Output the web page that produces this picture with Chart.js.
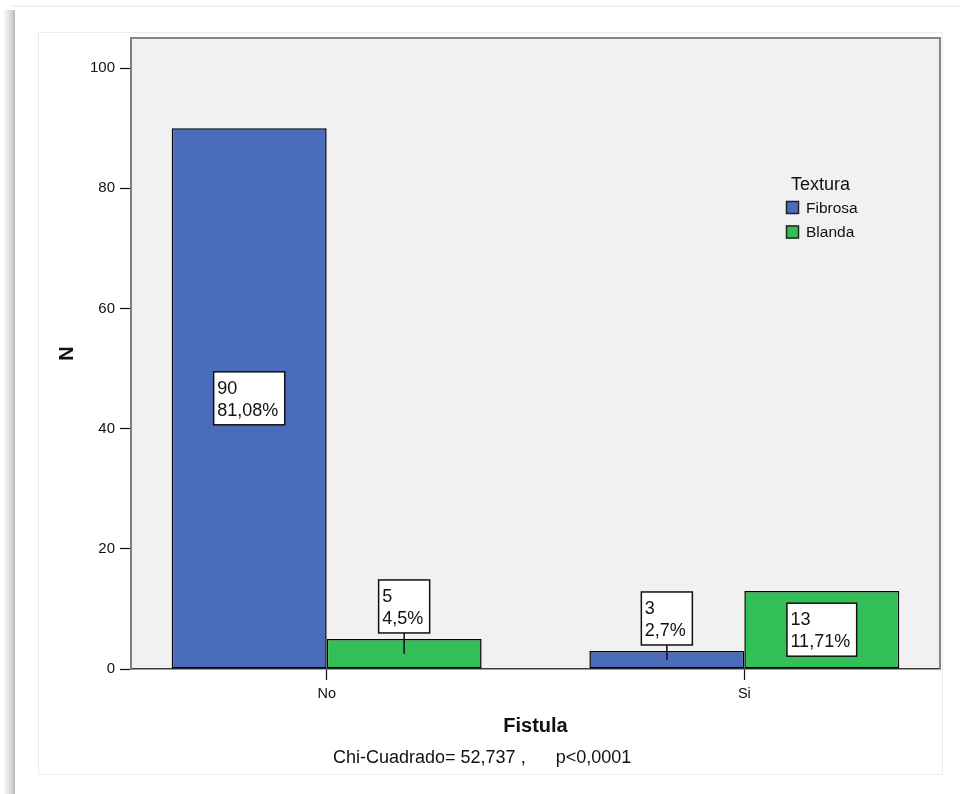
<!DOCTYPE html>
<html>
<head>
<meta charset="utf-8">
<script src="https://cdn.jsdelivr.net/npm/chart.js@4/dist/chart.umd.min.js"></script>
<style>
  html, body { margin: 0; padding: 0; background: #fff; }
  canvas { display: block; }
</style>
</head>
<body>
<canvas id="chart" width="960" height="794"></canvas>
<script>
// Counts of fistula by pancreatic texture
const categories = ['No', 'Si'];
const seriesNames = ['Fibrosa', 'Blanda'];
const fibrosa = [90, 3];
const blanda = [5, 13];
const fibrosaPct = ['81,08%', '2,7%'];
const blandaPct = ['4,5%', '11,71%'];
const yTicks = [0, 20, 40, 60, 80, 100];
const legendTitle = 'Textura';
const xTitle = 'Fistula';
const yTitle = 'N';
const footnote = 'Chi-Cuadrado= 52,737 ,      p<0,0001';

const FONT = "'Liberation Sans', Arial, Helvetica, sans-serif";
const COLORS = ['#4a6cba', '#31bf56'];

// Page frame, plot panel background and border
const framePlugin = {
  id: 'frame',
  beforeDraw(chart) {
    const ctx = chart.ctx;
    const a = chart.chartArea;
    ctx.save();
    // left drop shadow of the output frame
    const g = ctx.createLinearGradient(3, 0, 15, 0);
    g.addColorStop(0, 'rgba(0,0,0,0)');
    g.addColorStop(0.7, 'rgba(0,0,0,0.16)');
    g.addColorStop(1, 'rgba(0,0,0,0.28)');
    ctx.fillStyle = g;
    ctx.fillRect(3, 10, 12, 784);
    // faint top edge
    ctx.fillStyle = 'rgba(0,0,0,0.05)';
    ctx.fillRect(12, 5, 948, 2);
    // inner panel outline
    ctx.strokeStyle = '#ececec';
    ctx.lineWidth = 1;
    ctx.strokeRect(38.5, 32.5, 904, 742);
    // plot background
    ctx.fillStyle = '#f1f1f1';
    ctx.fillRect(a.left, a.top, a.right - a.left, a.bottom - a.top);
    ctx.restore();
  },
  afterDraw(chart) {
    const ctx = chart.ctx;
    const a = chart.chartArea;
    ctx.save();
    ctx.strokeStyle = '#858585';
    ctx.lineWidth = 2;
    ctx.beginPath();
    ctx.moveTo(a.left, a.top);
    ctx.lineTo(a.right, a.top);
    ctx.lineTo(a.right, a.bottom);
    ctx.stroke();
    ctx.restore();
  }
};

// Count / percentage boxes on each bar
const valueBoxPlugin = {
  id: 'valueBoxes',
  afterDatasetsDraw(chart) {
    const ctx = chart.ctx;
    ctx.save();
    ctx.font = '18px ' + FONT;
    chart.data.datasets.forEach((ds, di) => {
      const meta = chart.getDatasetMeta(di);
      meta.data.forEach((el, i) => {
        const p = el.getProps(['x', 'y', 'base'], true);
        const lines = [String(ds.data[i].y), ds.pct[i]];
        const w = Math.max(...lines.map(t => ctx.measureText(t).width)) + 10;
        const h = 53;
        const barH = p.base - p.y;
        const mid = (p.y + p.base) / 2;
        let top;
        let leader = false;
        if (barH > h + 4) {
          top = mid - h / 2;
        } else {
          top = p.y - 6 - h;
          leader = true;
        }
        const left = p.x - w / 2;
        if (leader) {
          ctx.strokeStyle = '#111';
          ctx.lineWidth = 1.5;
          ctx.beginPath();
          ctx.moveTo(p.x, top + h);
          ctx.lineTo(p.x, mid);
          ctx.stroke();
        }
        ctx.fillStyle = '#fff';
        ctx.fillRect(left, top, w, h);
        ctx.strokeStyle = '#111';
        ctx.lineWidth = 1.5;
        ctx.strokeRect(left, top, w, h);
        ctx.fillStyle = '#111';
        ctx.textAlign = 'left';
        ctx.textBaseline = 'alphabetic';
        ctx.fillText(lines[0], left + 3.5, top + 22);
        ctx.fillText(lines[1], left + 3.5, top + 44);
      });
    });
    ctx.restore();
  }
};

// Legend block and chi-square footnote
const legendPlugin = {
  id: 'legendBlock',
  afterDraw(chart) {
    const ctx = chart.ctx;
    ctx.save();
    ctx.fillStyle = '#111';
    ctx.textAlign = 'left';
    ctx.textBaseline = 'alphabetic';
    ctx.font = '18px ' + FONT;
    ctx.fillText(legendTitle, 791, 190);
    ctx.font = '15.5px ' + FONT;
    chart.data.datasets.forEach((ds, i) => {
      const y = 201 + i * 24.5;
      ctx.fillStyle = ds.backgroundColor;
      ctx.fillRect(786, y, 13, 13);
      ctx.strokeStyle = '#222';
      ctx.lineWidth = 1.5;
      ctx.strokeRect(786.5, y + 0.5, 12, 12);
      ctx.fillStyle = '#111';
      ctx.fillText(ds.label, 806, y + 11.5);
    });
    ctx.font = '18px ' + FONT;
    ctx.fillText(footnote, 333, 763);
    ctx.restore();
  }
};

const toPoints = arr => arr.map((v, i) => ({ x: i, y: v }));

new Chart(document.getElementById('chart'), {
  type: 'bar',
  data: {
    datasets: [
      { label: seriesNames[0], data: toPoints(fibrosa), pct: fibrosaPct,
        backgroundColor: COLORS[0], borderColor: '#000', borderWidth: 1.5, borderSkipped: false },
      { label: seriesNames[1], data: toPoints(blanda), pct: blandaPct,
        backgroundColor: COLORS[1], borderColor: '#000', borderWidth: 1.5, borderSkipped: false }
    ]
  },
  options: {
    responsive: false,
    animation: false,
    events: [],
    layout: { padding: { left: 0, top: 38, right: 20, bottom: 0 } },
    datasets: { bar: { barPercentage: 1, categoryPercentage: 0.742, grouped: true } },
    plugins: {
      legend: { display: false },
      tooltip: { enabled: false },
      title: { display: false }
    },
    scales: {
      x: {
        type: 'linear',
        min: -0.4685,
        max: 1.4685,
        offset: false,
        z: 1,
        afterBuildTicks: ax => { ax.ticks = categories.map((_, i) => ({ value: i })); },
        afterFit: ax => { ax.height = 125; },
        grid: { offset: false, drawOnChartArea: false, drawTicks: true, tickLength: 11, tickColor: '#111', tickWidth: 1.2 },
        border: { display: true, color: '#3a3a3a', width: 1.5 },
        ticks: {
          callback: v => categories[v],
          font: { family: FONT, size: 14.5 },
          color: '#111',
          padding: 5,
          maxRotation: 0,
          autoSkip: false
        },
        title: {
          display: true, text: xTitle, color: '#111',
          font: { family: FONT, size: 20, weight: 'bold' },
          padding: { top: 0, bottom: 56 }
        }
      },
      y: {
        min: 0,
        max: 105,
        afterBuildTicks: ax => { ax.ticks = yTicks.map(v => ({ value: v })); },
        afterFit: ax => { ax.width = 131; },
        grid: { drawOnChartArea: false, drawTicks: true, tickLength: 11, tickColor: '#111', tickWidth: 1.2 },
        border: { display: true, color: '#808080', width: 2 },
        ticks: {
          font: { family: FONT, size: 15 },
          color: '#111',
          padding: 5
        },
        title: {
          display: true, text: yTitle, color: '#111',
          font: { family: FONT, size: 20, weight: 'bold' },
          padding: { top: 55, bottom: 0 }
        }
      }
    }
  },
  plugins: [framePlugin, valueBoxPlugin, legendPlugin]
});
</script>
</body>
</html>
